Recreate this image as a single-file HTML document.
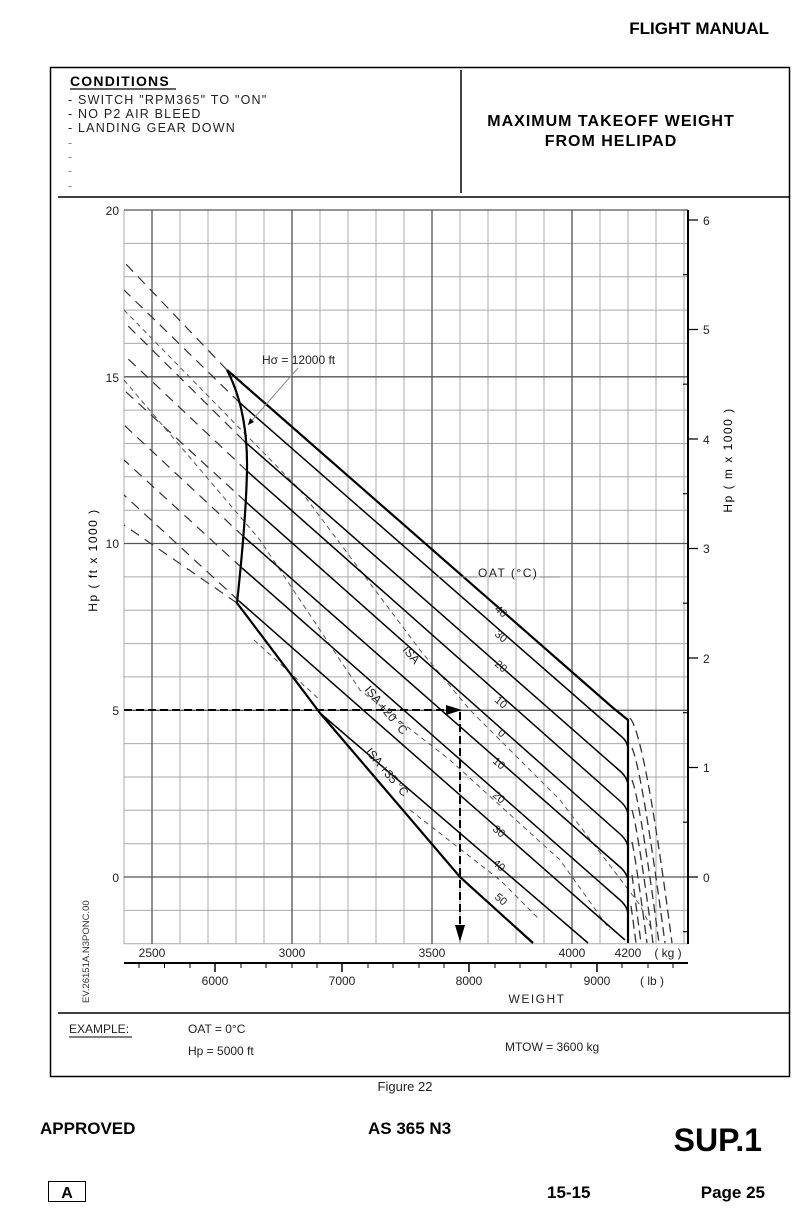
<!DOCTYPE html>
<html><head><meta charset="utf-8"><style>
body{margin:0;background:#fff;}
svg{display:block;font-family:"Liberation Sans",sans-serif;}
</style></head><body>
<svg width="804" height="1222" viewBox="0 0 804 1222" xmlns="http://www.w3.org/2000/svg">
<rect width="804" height="1222" fill="#fff"/>
<text x="769" y="34" font-size="17" font-weight="bold" text-anchor="end">FLIGHT MANUAL</text>
<rect x="50.5" y="67.5" width="739" height="1009" fill="none" stroke="#000" stroke-width="1.5"/>
<line x1="461" y1="70" x2="461" y2="193" stroke="#000" stroke-width="1.5"/>
<line x1="58" y1="197" x2="790" y2="197" stroke="#000" stroke-width="1.5"/>
<text x="70" y="86" font-size="14" font-weight="bold" letter-spacing="1.2">CONDITIONS</text>
<line x1="70" y1="89" x2="176" y2="89" stroke="#000" stroke-width="1.2"/>
<g font-size="12.5" letter-spacing="1.2" fill="#222">
<text x="68" y="104">- SWITCH "RPM365" TO "ON"</text>
<text x="68" y="118">- NO P2 AIR BLEED</text>
<text x="68" y="132">- LANDING GEAR DOWN</text>
<text x="68" y="147" fill="#888">-</text><text x="68" y="161" fill="#888">-</text><text x="68" y="175" fill="#888">-</text><text x="68" y="190" fill="#888">-</text>
</g>
<text x="611" y="126" font-size="16" font-weight="bold" text-anchor="middle" letter-spacing="1">MAXIMUM TAKEOFF WEIGHT</text>
<text x="611" y="146" font-size="16" font-weight="bold" text-anchor="middle" letter-spacing="1">FROM HELIPAD</text>

<g stroke="#aaa" stroke-width="1">
<path d="M124 210V944M180 210V944M208 210V944M236 210V944M264 210V944M320 210V944M348 210V944M376 210V944M404 210V944M460 210V944M488 210V944M516 210V944M544 210V944M600 210V944M628 210V944M656 210V944M684 210V944"/>
<path d="M124 243.4H688M124 276.7H688M124 310.1H688M124 343.4H688M124 410.1H688M124 443.5H688M124 476.8H688M124 510.2H688M124 576.9H688M124 610.2H688M124 643.6H688M124 676.9H688M124 743.6H688M124 777H688M124 810.3H688M124 843.7H688M124 910.4H688M124 943.7H688"/>
</g>
<g stroke="#555" stroke-width="1.3">
<path d="M152 210V944M292 210V944M432 210V944M572 210V944"/>
<path d="M124 210H688M124 376.8H688M124 543.5H688M124 710.3H688M124 877H688"/>
</g>
<g font-size="12" fill="#222" text-anchor="end">
<text x="119" y="215">20</text><text x="119" y="382">15</text><text x="119" y="548">10</text><text x="119" y="715">5</text><text x="119" y="882">0</text>
</g>
<text transform="translate(97,560) rotate(-90)" font-size="12" text-anchor="middle" letter-spacing="1.5">Hp ( ft x 1000 )</text>
<line x1="688" y1="210" x2="688" y2="944" stroke="#000" stroke-width="2"/>
<g stroke="#000" stroke-width="1.2">
<path d="M688 220H698M688 329.5H698M688 439H698M688 548.5H698M688 658H698M688 767.5H698M688 877H698"/>
<path d="M683 274.7H688M683 384.2H688M683 493.7H688M683 603.2H688M683 712.7H688M683 822.2H688M683 931.7H688"/>
</g>
<g font-size="12" fill="#222">
<text x="703" y="225">6</text><text x="703" y="334">5</text><text x="703" y="444">4</text><text x="703" y="553">3</text><text x="703" y="663">2</text><text x="703" y="772">1</text><text x="703" y="882">0</text>
</g>
<text transform="translate(732,460) rotate(-90)" font-size="12" text-anchor="middle" letter-spacing="1.5">Hp ( m x 1000 )</text>
<g font-size="12" fill="#222" text-anchor="middle">
<text x="152" y="957">2500</text><text x="292" y="957">3000</text><text x="432" y="957">3500</text><text x="572" y="957">4000</text><text x="628" y="957">4200</text><text x="668" y="957">( kg )</text>
<text x="215" y="985">6000</text><text x="342" y="985">7000</text><text x="469" y="985">8000</text><text x="597" y="985">9000</text><text x="652" y="985">( lb )</text>
<text x="537" y="1003" letter-spacing="1.5">WEIGHT</text>
</g>
<line x1="124" y1="963" x2="688" y2="963" stroke="#000" stroke-width="2"/>
<g stroke="#000" stroke-width="1">
<path d="M139 963V968M164.5 963V968M190 963V968M241 963V968M266 963V968M292 963V968M317 963V968M368 963V968M393 963V968M419 963V968M444 963V968M495 963V968M520 963V968M546 963V968M571 963V968M622 963V968M648 963V968M673 963V968"/>
<path d="M215 963V972M342 963V972M469 963V972M597 963V972" stroke-width="1.5"/>
</g>
<text transform="translate(89,1003) rotate(-90)" font-size="9.5" fill="#333">EV.26151A.N3PONC.00</text>

<g stroke="#333" stroke-width="1.2" stroke-dasharray="10,7" fill="none">
<path d="M227 370L124 262M240 403L124 290M244 441L124 322M247 471L124 355M246 502L124 390M244 537L124 425M242 568L124 460M239 601L124 495M237 603L124 525"/>
</g>
<g stroke="#555" stroke-width="1" stroke-dasharray="5,4" fill="none">
<path d="M124 310L300 490L420 650L470 710L560 800L640 905L652 930"/>
<path d="M124 380L260 540L360 690L450 760L560 860L610 930"/>
<path d="M254 640L320 700M410 810L500 880L540 920"/>
</g>
<g stroke="#333" stroke-width="1.3" stroke-dasharray="9,5" fill="none">
<path d="M630 718Q645 735 672 943M632 748Q642 770 665 943M632 780Q640 800 659 943M632 810Q638 830 653 943M632 842Q636 860 647 943M632 875Q634 890 641 943M631 906Q633 920 636 943"/>
</g>
<g stroke="#000" stroke-width="1.5" fill="none">
<path d="M240 403L622 737Q628 742 628 750"/>
<path d="M244 441L620 771Q628 778 628 786"/>
<path d="M247 471L620 801Q628 808 628 816"/>
<path d="M246 502L620 834Q628 841 628 849"/>
<path d="M244 537L620 867Q628 874 628 882"/>
<path d="M242 568L620 900Q628 907 628 915"/>
<path d="M239 601L625 940"/>
<path d="M320 713L588 943"/>
</g>
<g stroke="#000" stroke-width="2.2" fill="none">
<path d="M227 370L612 707L628 720V943"/>
<path d="M227 370Q248 410 247 470Q246 520 237 603L320 713L460 877L533 943"/>
</g>
<g stroke="#000" stroke-width="2" stroke-dasharray="8,4" fill="none">
<path d="M124 710H448"/><path d="M460 712V925"/>
</g>
<path d="M446 705L462 710L446 715Z" fill="#000"/>
<path d="M455 925L460 942L465 925Z" fill="#000"/>
<text x="262" y="364" font-size="12" fill="#222">Hσ = 12000 ft</text>
<line x1="298" y1="368" x2="248" y2="425" stroke="#888" stroke-width="1"/>
<path d="M248 425L250 418L254 422Z" fill="#000"/>
<text x="478" y="577" font-size="12" fill="#222" letter-spacing="1.5">OAT (°C)</text>
<line x1="420" y1="577" x2="477" y2="577" stroke="#888"/><line x1="540" y1="577" x2="560" y2="577" stroke="#888"/>
<g font-size="11" fill="#222">
<text transform="translate(494,610) rotate(41)">40</text>
<text transform="translate(494,635) rotate(41)">30</text>
<text transform="translate(494,665) rotate(41)">20</text>
<text transform="translate(494,701) rotate(41)">10</text>
<text transform="translate(497,734) rotate(41)">0</text>
<text transform="translate(492,762) rotate(41)">10</text>
<text transform="translate(492,796) rotate(41)">20</text>
<text transform="translate(492,830) rotate(41)">30</text>
<text transform="translate(492,864) rotate(41)">40</text>
<text transform="translate(494,898) rotate(41)">50</text>
<text transform="translate(402,650) rotate(50)" font-size="12">ISA</text>
<text transform="translate(364,690) rotate(50)" font-size="12">ISA +20 °C</text>
<text transform="translate(365,752) rotate(50)" font-size="12">ISA +35 °C</text>
</g>
<line x1="58" y1="1013" x2="790" y2="1013" stroke="#000" stroke-width="1.5"/>
<g font-size="12" fill="#222">
<text x="69" y="1033">EXAMPLE:</text>
<line x1="69" y1="1037" x2="132" y2="1037" stroke="#000"/>
<text x="188" y="1033">OAT = 0°C</text>
<text x="188" y="1055">Hp = 5000 ft</text>
<text x="505" y="1051">MTOW = 3600 kg</text>
</g>
<text x="405" y="1091" font-size="13" text-anchor="middle" fill="#222">Figure 22</text>
<text x="40" y="1134" font-size="17" font-weight="bold">APPROVED</text>
<text x="368" y="1134" font-size="17" font-weight="bold">AS 365 N3</text>
<text x="762" y="1151" font-size="32" font-weight="bold" text-anchor="end">SUP.1</text>
<rect x="48.5" y="1181.5" width="37" height="20" fill="none" stroke="#000" stroke-width="1"/>
<text x="67" y="1198" font-size="16" font-weight="bold" text-anchor="middle">A</text>
<text x="547" y="1198" font-size="17" font-weight="bold">15-15</text>
<text x="765" y="1198" font-size="17" font-weight="bold" text-anchor="end">Page 25</text>
</svg>
</body></html>
